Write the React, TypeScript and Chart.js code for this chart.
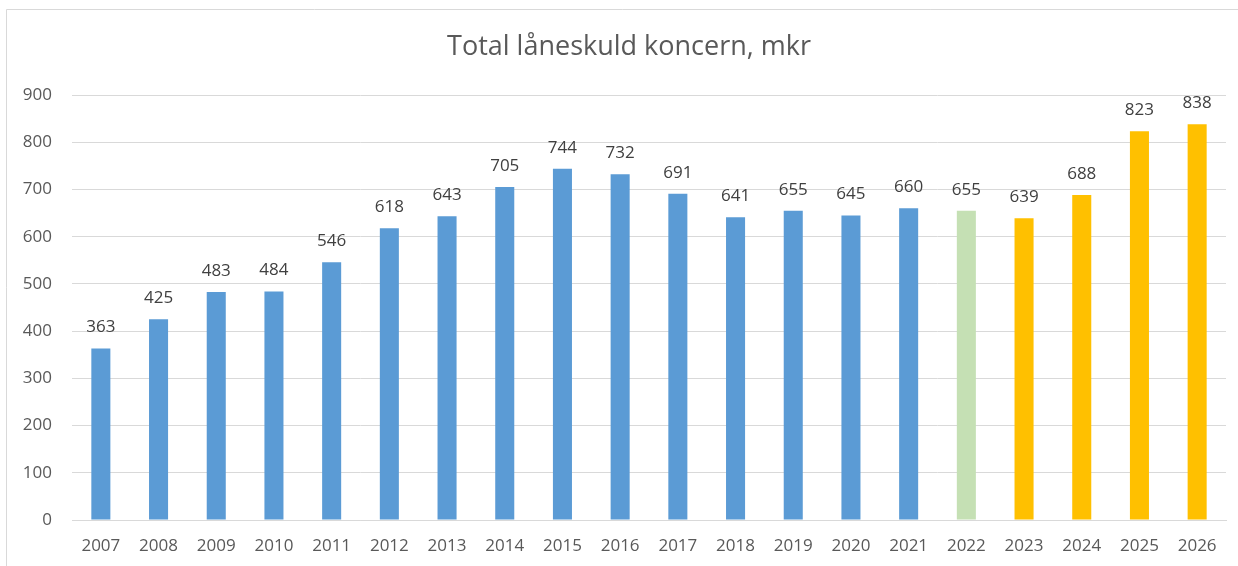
import React, { useEffect, useRef } from "react";
import { Chart, registerables } from "chart.js";

Chart.register(...registerables);

const title = "Total låneskuld koncern, mkr";
const years = ["2007","2008","2009","2010","2011","2012","2013","2014","2015","2016","2017","2018","2019","2020","2021","2022","2023","2024","2025","2026"];
const values = [363, 425, 483, 484, 546, 618, 643, 705, 744, 732, 691, 641, 655, 645, 660, 655, 639, 688, 823, 838];
const kinds = ["a","a","a","a","a","a","a","a","a","a","a","a","a","a","a","e","f","f","f","f"];
const yTicks = [0, 100, 200, 300, 400, 500, 600, 700, 800, 900];

const kindColor: Record<string, string> = { a: "#5B9BD5", e: "#C5E0B4", f: "#FFC000" };
const FONT = "'Open Sans', sans-serif";

const framePlugin = {
  id: "frame",
  beforeDraw(chart: any) {
    const ctx = chart.ctx;
    ctx.save();
    ctx.fillStyle = "#ffffff";
    ctx.fillRect(0, 0, chart.width, chart.height);
    ctx.strokeStyle = "#D9D9D9";
    ctx.lineWidth = 1;
    ctx.beginPath();
    ctx.moveTo(6.5, chart.height);
    ctx.lineTo(6.5, 9.5);
    ctx.lineTo(chart.width, 9.5);
    ctx.stroke();
    ctx.fillStyle = "#595959";
    ctx.font = `27px ${FONT}`;
    ctx.textAlign = "center";
    ctx.textBaseline = "middle";
    ctx.fillText(title, 629, 47);
    ctx.restore();
  },
};

const labelPlugin = {
  id: "barLabels",
  afterDatasetsDraw(chart: any) {
    const ctx = chart.ctx;
    const meta = chart.getDatasetMeta(0);
    ctx.save();
    ctx.fillStyle = "#404040";
    ctx.font = `17px ${FONT}`;
    ctx.textAlign = "center";
    ctx.textBaseline = "middle";
    meta.data.forEach((bar: any, i: number) => {
      ctx.fillText(String(values[i]), bar.x, bar.y - 21);
    });
    ctx.restore();
  },
};

export default function App() {
  const ref = useRef<HTMLCanvasElement>(null);
  useEffect(() => {
    document.body.style.margin = "0";
    const chart = new Chart(ref.current!, {
      type: "bar",
      data: {
        labels: years,
        datasets: [
          {
            data: values,
            backgroundColor: kinds.map((k) => kindColor[k]),
            barPercentage: 0.33,
            categoryPercentage: 1,
          },
        ],
      },
      options: {
        responsive: false,
        animation: false,
        layout: { padding: { left: 0, right: 12, top: 95, bottom: 0 } },
        plugins: { legend: { display: false }, tooltip: { enabled: false }, title: { display: false } },
        scales: {
          x: {
            grid: { display: false, drawTicks: false },
            border: { display: true, color: "#D9D9D9", width: 1 },
            ticks: { color: "#595959", font: { family: FONT, size: 17 }, padding: 16, maxRotation: 0 },
            afterFit(scale: any) { scale.height = 46; },
          },
          y: {
            min: 0,
            max: 900,
            afterBuildTicks(scale: any) { scale.ticks = yTicks.map((v) => ({ value: v })); },
            grid: { color: "#D9D9D9", lineWidth: 1, drawTicks: false },
            border: { display: false },
            ticks: { color: "#595959", font: { family: FONT, size: 17 }, padding: 20 },
            afterFit(scale: any) { scale.width = 72; },
          },
        },
      },
      plugins: [framePlugin, labelPlugin],
    } as any);
    return () => chart.destroy();
  }, []);
  return <canvas ref={ref} width={1238} height={566} style={{ display: "block" }} />;
}
